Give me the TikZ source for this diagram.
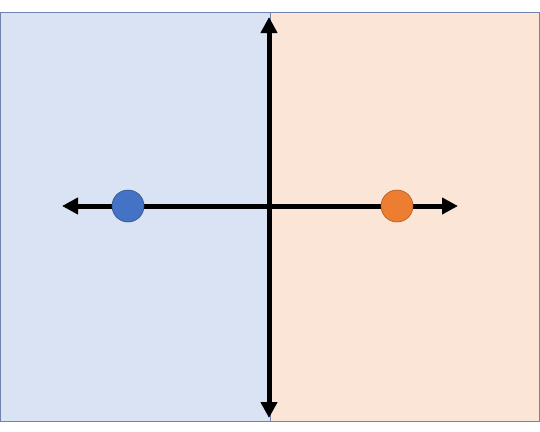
\documentclass[tikz,border=0pt]{standalone}
\usepackage{xcolor}
\usepackage{tikz}
\usetikzlibrary{arrows.meta}
\definecolor{LeftFill}{HTML}{DAE3F3}
\definecolor{RightFill}{HTML}{FBE5D6}
\definecolor{Frame}{HTML}{6F82B0}
\definecolor{DotBlue}{HTML}{4472C4}
\definecolor{DotBlueEdge}{HTML}{2F528F}
\definecolor{DotOrange}{HTML}{ED7D31}
\definecolor{DotOrangeEdge}{HTML}{AE5A21}

\begin{document}
\begin{tikzpicture}[
		x=1pt,y=-1pt,
		half/.style={draw=Frame,line width=0.8pt},
		axis/.style={{Triangle[length=16pt,width=16pt]}-{Triangle[length=16pt,width=16pt]},line width=5pt,black},
		dot/.style={circle,minimum size=32pt,inner sep=0pt,line width=0.6pt}
	]
	\useasboundingbox (0,0) rectangle (540,431);
	% two halves
	\fill[LeftFill] (0.5,12) rectangle (270,421);
	\fill[RightFill] (270,12) rectangle (539.5,421);
	\draw[half] (0.5,12) rectangle (539.5,421);
	\draw[Frame,line width=0.8pt] (270,12) -- (270,421);
	% axes
	\coordinate (top) at (269,17);
	\coordinate (bottom) at (269,418);
	\coordinate (west) at (62,206);
	\coordinate (east) at (458,206);
	\draw[axis] (top) -- (bottom);
	\draw[axis] (west) -- (east);
	% dots
	\node[dot,fill=DotBlue,draw=DotBlueEdge] (blue) at (128,206) {};
	\node[dot,fill=DotOrange,draw=DotOrangeEdge] (orange) at (397,206) {};
\end{tikzpicture}
\end{document}
